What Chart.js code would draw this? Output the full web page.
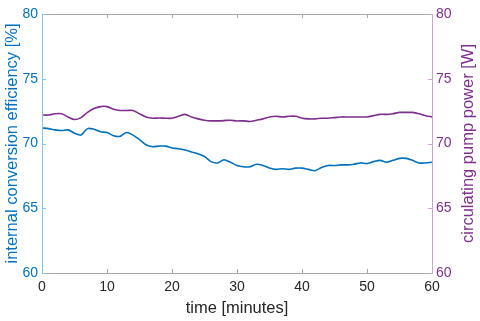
<!DOCTYPE html>
<html>
<head>
<meta charset="utf-8">
<script src="https://cdn.jsdelivr.net/npm/chart.js@4"></script>
<style>
  html, body { margin: 0; padding: 0; background: #fff; }
  #wrap { width: 480px; height: 321px; }
</style>
</head>
<body>
<div id="wrap"><canvas id="chart"></canvas></div>
<script>
// time in minutes
const minutes = [];
for (let m = 0; m <= 60; m++) minutes.push(m);

// internal conversion efficiency [%]
const efficiency = [
  71.2, 71.15, 71.05, 71.0, 71.05, 70.8, 70.65, 71.15, 71.1, 70.9,
  70.85, 70.6, 70.55, 70.85, 70.65, 70.3, 69.9, 69.75, 69.8, 69.8,
  69.65, 69.6, 69.5, 69.35, 69.2, 69.0, 68.6, 68.5, 68.75, 68.55,
  68.3, 68.2, 68.2, 68.4, 68.3, 68.1, 68.0, 68.05, 68.0, 68.1,
  68.1, 68.0, 67.9, 68.15, 68.3, 68.3, 68.35, 68.35, 68.4, 68.5,
  68.45, 68.6, 68.7, 68.55, 68.7, 68.85, 68.85, 68.7, 68.5, 68.5,
  68.55
];

// circulating pump power [W]
const pumpPower = [
  72.2, 72.2, 72.3, 72.3, 72.05, 71.85, 72.0, 72.4, 72.7, 72.85,
  72.85, 72.65, 72.55, 72.55, 72.55, 72.3, 72.05, 71.95, 71.97, 71.95,
  71.95, 72.1, 72.25, 72.05, 71.9, 71.8, 71.75, 71.75, 71.77, 71.8,
  71.74, 71.75, 71.7, 71.8, 71.9, 72.05, 72.1, 72.05, 72.1, 72.1,
  71.95, 71.9, 71.9, 71.95, 71.95, 72.0, 72.05, 72.05, 72.05, 72.05,
  72.05, 72.15, 72.25, 72.25, 72.3, 72.4, 72.4, 72.4, 72.3, 72.15,
  72.05
];

const BLUE = '#0072BD';
const PURPLE = '#7E2F8E';
const FONT = '"Liberation Sans", Arial, sans-serif';
const TITLE_SIZE = 16.5;

// MATLAB-style box with inward ticks and a right label reading upward
const boxPlugin = {
  id: 'box',
  afterDraw(chart) {
    const ctx = chart.ctx;
    const a = chart.chartArea;
    const x = chart.scales.x, y = chart.scales.y, y1 = chart.scales.y1;
    const tl = 4;
    ctx.save();
    ctx.lineWidth = 1;

    ctx.strokeStyle = '#a8a8a8';
    ctx.beginPath();
    ctx.moveTo(a.left, a.top + 0.5); ctx.lineTo(a.right, a.top + 0.5);
    ctx.moveTo(a.left, a.bottom + 0.5); ctx.lineTo(a.right, a.bottom + 0.5);
    x.ticks.forEach(t => {
      const px = Math.round(x.getPixelForValue(t.value)) + 0.5;
      ctx.moveTo(px, a.bottom); ctx.lineTo(px, a.bottom - tl);
      ctx.moveTo(px, a.top); ctx.lineTo(px, a.top + tl);
    });
    ctx.stroke();

    ctx.strokeStyle = '#8cc3e8';
    ctx.beginPath();
    ctx.moveTo(a.left + 0.5, a.top); ctx.lineTo(a.left + 0.5, a.bottom + 1);
    y.ticks.forEach(t => {
      const py = Math.round(y.getPixelForValue(t.value)) + 0.5;
      ctx.moveTo(a.left, py); ctx.lineTo(a.left + tl, py);
    });
    ctx.stroke();

    ctx.strokeStyle = '#caa6d2';
    ctx.beginPath();
    ctx.moveTo(a.right + 0.5, a.top); ctx.lineTo(a.right + 0.5, a.bottom + 1);
    y1.ticks.forEach(t => {
      const py = Math.round(y1.getPixelForValue(t.value)) + 0.5;
      ctx.moveTo(a.right, py); ctx.lineTo(a.right - tl, py);
    });
    ctx.stroke();

    ctx.fillStyle = PURPLE;
    ctx.font = TITLE_SIZE + 'px ' + FONT;
    ctx.textAlign = 'center';
    ctx.textBaseline = 'middle';
    ctx.translate(a.right + 36, (a.top + a.bottom) / 2);
    ctx.rotate(-Math.PI / 2);
    ctx.fillText('circulating pump power [W]', 0, 0);
    ctx.restore();
  }
};

new Chart(document.getElementById('chart'), {
  type: 'line',
  data: {
    labels: minutes,
    datasets: [
      {
        label: 'internal conversion efficiency',
        data: efficiency,
        yAxisID: 'y',
        borderColor: BLUE,
        borderWidth: 1.6,
        pointRadius: 0,
        tension: 0.3
      },
      {
        label: 'circulating pump power',
        data: pumpPower,
        yAxisID: 'y1',
        borderColor: PURPLE,
        borderWidth: 1.6,
        pointRadius: 0,
        tension: 0.3
      }
    ]
  },
  options: {
    responsive: true,
    maintainAspectRatio: false,
    animation: false,
    layout: { padding: { top: 14, left: 0, right: 0, bottom: 0 } },
    plugins: {
      legend: { display: false },
      tooltip: { enabled: false }
    },
    scales: {
      x: {
        type: 'linear',
        min: 0,
        max: 60,
        afterFit: s => { s.height = 48; },
        border: { display: false },
        grid: { display: false, drawTicks: false },
        ticks: {
          stepSize: 10,
          padding: 6,
          color: '#262626',
          font: { family: FONT, size: 14 }
        },
        title: {
          display: true,
          text: 'time [minutes]',
          color: '#262626',
          padding: { top: 0, bottom: 3 },
          font: { family: FONT, size: TITLE_SIZE }
        }
      },
      y: {
        position: 'left',
        min: 60,
        max: 80,
        afterFit: s => { s.width = 42; },
        border: { display: false },
        grid: { display: false, drawTicks: false },
        ticks: {
          stepSize: 5,
          padding: 4,
          color: BLUE,
          font: { family: FONT, size: 14 }
        },
        title: {
          display: true,
          text: 'internal conversion efficiency [%]',
          color: BLUE,
          padding: { top: 3, bottom: 0 },
          font: { family: FONT, size: TITLE_SIZE }
        }
      },
      y1: {
        position: 'right',
        min: 60,
        max: 80,
        afterFit: s => { s.width = 48; },
        border: { display: false },
        grid: { display: false, drawTicks: false },
        ticks: {
          stepSize: 5,
          padding: 4,
          color: PURPLE,
          font: { family: FONT, size: 14 }
        }
      }
    }
  },
  plugins: [boxPlugin]
});
</script>
</body>
</html>
